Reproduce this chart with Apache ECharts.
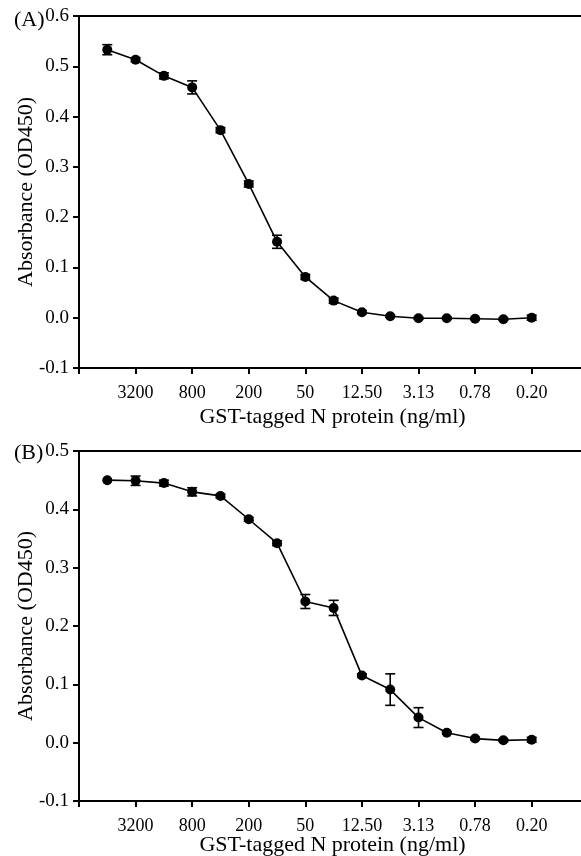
<!DOCTYPE html>
<html><head><meta charset="utf-8">
<script src="https://cdn.jsdelivr.net/npm/echarts@6/dist/echarts.min.js"></script>
<style>html,body{margin:0;padding:0;background:#fff}#c{width:581px;height:856px}</style>
</head><body><div id="c"></div>
<script>
// concentrations (ng/ml), from highest to lowest
const concentrations = ['6400','3200','1600','800','400','200','100','50','25','12.50','6.25','3.13','1.56','0.78','0.39','0.20'];
// Panel A
const valuesA = [0.533,0.513,0.481,0.458,0.373,0.266,0.151,0.081,0.034,0.011,0.003,-0.001,-0.001,-0.002,-0.003,0.000];
const errorsA = [0.010,0.004,0.006,0.013,0.005,0.006,0.013,0.005,0.005,0.003,0.002,0.002,0.002,0.002,0.002,0.005];
// Panel B
const valuesB = [0.450,0.449,0.445,0.430,0.423,0.383,0.342,0.242,0.231,0.115,0.091,0.043,0.017,0.007,0.004,0.005];
const errorsB = [0.000,0.008,0.005,0.007,0.003,0.003,0.004,0.012,0.013,0.003,0.027,0.017,0.002,0.002,0.002,0.004];
const xName = 'GST-tagged N protein (ng/ml)';
const yName = 'Absorbance (OD450)';

const FONT = 'Liberation Serif';
const pos = concentrations.map((c, i) => i + 1);

function xLabel(v) {
  const r = Math.round(v);
  if (Math.abs(v - r) > 1e-6 || r < 2 || r % 2 !== 0) return '';
  return concentrations[r - 1] || '';
}

function errBars(vals, errs, gi) {
  return {
    type: 'custom', xAxisIndex: gi * 2, yAxisIndex: gi, z: 3,
    data: vals.map((v, i) => [pos[i], v, errs[i]]),
    renderItem: function (params, api) {
      const x = api.value(0), y = api.value(1), e = api.value(2);
      if (!e) return null;
      const top = api.coord([x, y + e]);
      const bot = api.coord([x, y - e]);
      const hw = 5;
      const st = { stroke: '#000', lineWidth: 1.6 };
      return {
        type: 'group', children: [
          { type: 'line', shape: { x1: top[0], y1: top[1], x2: bot[0], y2: bot[1] }, style: st },
          { type: 'line', shape: { x1: top[0] - hw, y1: top[1], x2: top[0] + hw, y2: top[1] }, style: st },
          { type: 'line', shape: { x1: bot[0] - hw, y1: bot[1], x2: bot[0] + hw, y2: bot[1] }, style: st }
        ]
      };
    }
  };
}

function lineSeries(vals, gi) {
  return {
    type: 'line', xAxisIndex: gi * 2, yAxisIndex: gi, z: 4,
    data: vals.map((v, i) => [pos[i], v]),
    symbol: 'circle', symbolSize: 10, showSymbol: true,
    lineStyle: { color: '#000', width: 1.6 },
    itemStyle: { color: '#000' },
    animation: false
  };
}

const axisLineStyle = { show: true, onZero: false, lineStyle: { color: '#000', width: 2 } };

function xAxes(gi, gap) {
  return [{
    type: 'value', gridIndex: gi, min: 0, max: 17.92, interval: 2,
    name: xName, nameLocation: 'middle', nameGap: gap, nameMoveOverlap: false,
    nameTextStyle: { fontFamily: FONT, fontSize: 22, color: '#000' },
    axisLine: axisLineStyle,
    axisTick: { show: true, inside: false, length: 6, lineStyle: { color: '#000', width: 2 } },
    axisLabel: { formatter: xLabel, fontFamily: FONT, fontSize: 18, color: '#000', margin: 16, showMaxLabel: false },
    splitLine: { show: false }
  }, {
    type: 'value', gridIndex: gi, position: 'top', min: 0, max: 17.92,
    axisLine: axisLineStyle, axisTick: { show: false }, axisLabel: { show: false }, splitLine: { show: false }
  }];
}

function yAxis(gi, max) {
  return {
    type: 'value', gridIndex: gi, min: -0.1, max: max, interval: 0.1,
    name: yName, nameLocation: 'middle', nameGap: 42, nameMoveOverlap: false,
    nameTextStyle: { fontFamily: FONT, fontSize: 22, color: '#000' },
    axisLine: axisLineStyle,
    axisTick: { show: true, inside: false, length: 6, lineStyle: { color: '#000', width: 2 } },
    axisLabel: { formatter: v => (Math.round(v * 10) / 10).toFixed(1), fontFamily: FONT, fontSize: 19, color: '#000', margin: 10 },
    splitLine: { show: false }
  };
}

const chart = echarts.init(document.getElementById('c'));
chart.setOption({
  animation: false,
  title: [
    { text: '(A)', left: 9, top: 4, textStyle: { fontFamily: FONT, fontSize: 22, fontWeight: 'normal', color: '#000' } },
    { text: '(B)', left: 9, top: 437, textStyle: { fontFamily: FONT, fontSize: 22, fontWeight: 'normal', color: '#000' } }
  ],
  grid: [
    { left: 79, right: -5, top: 16, bottom: 488, containLabel: false, outerBoundsMode: 'none' },
    { left: 79, right: -5, top: 451, bottom: 55, containLabel: false, outerBoundsMode: 'none' }
  ],
  xAxis: [].concat(xAxes(0, 38), xAxes(1, 33)),
  yAxis: [yAxis(0, 0.6), yAxis(1, 0.5)],
  series: [
    errBars(valuesA, errorsA, 0), lineSeries(valuesA, 0),
    errBars(valuesB, errorsB, 1), lineSeries(valuesB, 1)
  ]
});
</script></body></html>
